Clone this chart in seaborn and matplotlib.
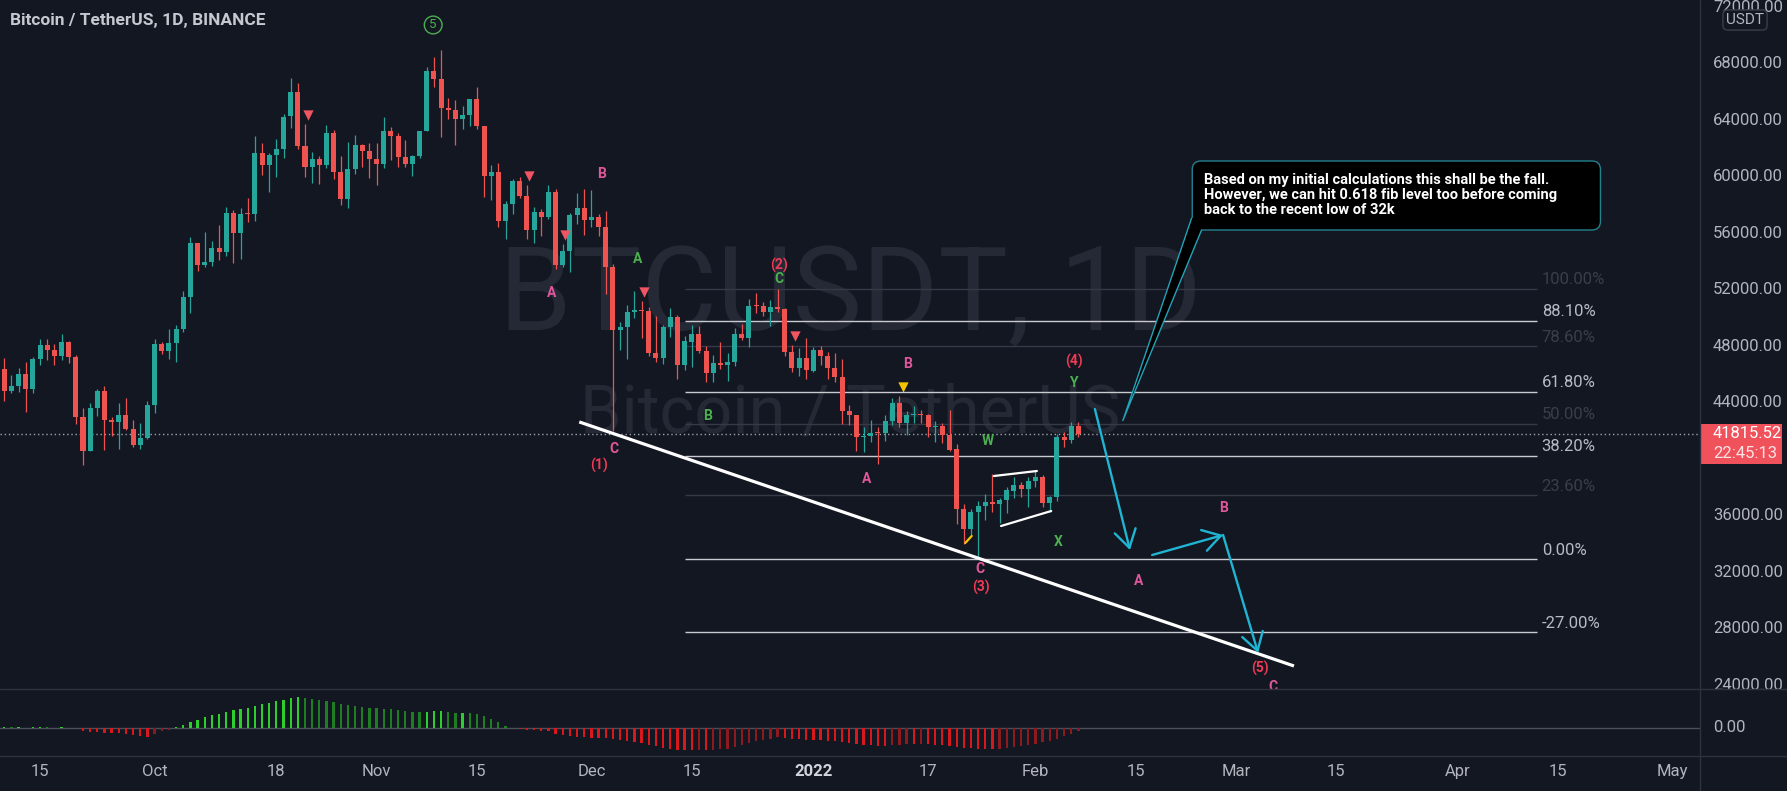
import numpy as np
import pandas as pd
import matplotlib
matplotlib.use('Agg')
import matplotlib.pyplot as plt
import seaborn as sns
from matplotlib.patches import FancyBboxPatch, Polygon, Rectangle
from matplotlib.lines import Line2D

# ---------------- data: BTCUSDT daily candles (Binance) ----------------
dates = pd.date_range('2021-09-10', '2022-02-07', freq='D')
opens = [
    # Sep 10-30
    46395, 44850, 45174, 46026, 44941, 47111, 48121, 47737, 47300, 48313, 47260, 42967, 40589, 43600, 44864,
    42810, 42670, 43160, 42147, 41026, 41524,
    # Oct
    43820, 48141, 47634, 48200, 49224, 51471, 55315, 53785, 53955, 54949, 54659, 57471, 55996, 57370, 57347,
    61672, 60875, 61528, 62005, 64281, 66001, 62193, 60689, 61286, 60852, 63078, 60328, 58413, 60575, 62253, 61859,
    # Nov
    61300, 60911, 63254, 62896, 61396, 60940, 61470, 63273, 67525, 66947, 64883, 64774, 64122, 64380, 65520,
    63606, 60059, 60344, 56891, 58057, 59707, 58617, 56247, 57541, 57138, 58960, 53724, 54721, 57274, 57777,
    # Dec
    56950, 57185, 56484, 53602, 49152, 49397, 50441, 50588, 50471, 47535, 47140, 49389, 50053, 46702, 48336,
    48864, 47632, 46133, 46835, 46681, 46914, 48887, 48588, 50838, 50820, 50428, 50809, 50640, 47588, 46444, 47178,
    # Jan
    46217, 47722, 47286, 46446, 45833, 43431, 43097, 41552, 41673, 41846, 41821, 42735, 43949, 42592, 43099,
    43172, 43118, 42250, 42374, 41744, 40699, 36471, 35031, 36276, 36655, 36950, 36841, 37128, 37780, 38151, 37920,
    # Feb
    38466, 38709, 36896, 37311, 41571, 41382, 42380,
]
highs = [
    47200, 45988, 46460, 46876, 47250, 48500, 48500, 48150, 48843, 48372, 47348, 43639, 44000, 44978, 45200,
    42966, 43950, 44350, 42787, 42590, 44141,
    48495, 48336, 49228, 49536, 51886, 55750, 55332, 56100, 55489, 56561, 57839, 57680, 57777, 58532, 62933,
    62378, 61718, 62695, 64486, 67000, 66639, 63732, 61747, 61500, 63710, 63293, 61496, 62499, 62980, 62359, 62405,
    62437, 64270, 63516, 63086, 62595, 61560, 63286, 67789, 68524, 69000, 65600, 65450, 64990, 65550, 66401,
    63617, 60840, 60976, 58320, 59845, 60029, 59444, 57875, 57735, 59398, 59150, 55280, 57445, 58865, 59176,
    59053, 57370, 57600, 53859, 49699, 50891, 51936, 51200, 50797, 50125, 49485, 50724, 50189, 48700, 49500,
    49436, 47995, 47392, 48300, 47537, 49328, 49576, 51375, 51810, 51156, 51280, 52088, 50704, 48119, 47900, 48577,
    47954, 47990, 47570, 47505, 47070, 43817, 43145, 42304, 42787, 42248, 43100, 44322, 44459, 43447, 43800,
    43476, 43179, 42690, 42574, 43505, 41100, 36835, 36499, 37050, 37545, 38919, 37234, 38000, 38720, 38359, 38744,
    39265, 38855, 37387, 41772, 41913, 42657, 42620,
]
lows = [
    44132, 44722, 44742, 43370, 44700, 46700, 47021, 46700, 47036, 46829, 42500, 39600, 40566, 43063, 40675,
    41646, 40750, 42098, 40888, 40753, 41410,
    43283, 47430, 47088, 46891, 49022, 50382, 53357, 53617, 53661, 54080, 54415, 53879, 54167, 56818, 56850,
    60150, 58963, 60000, 61322, 63481, 62000, 60000, 59562, 59510, 60650, 59817, 58000, 57820, 60174, 60673, 59945,
    59405, 60624, 61184, 60677, 60721, 60050, 61322, 63273, 66382, 62822, 64100, 62278, 63360, 63576, 63400,
    58574, 58373, 56474, 55600, 57353, 58486, 55610, 55317, 55837, 57000, 53500, 53610, 53256, 56666, 55875,
    56458, 55837, 51680, 42000, 47727, 47100, 50039, 48600, 47320, 46852, 46751, 48638, 45672, 46290, 46547,
    47511, 45456, 45500, 46406, 45558, 46630, 48421, 47920, 50384, 50142, 49412, 50449, 47313, 46201, 45900, 45678,
    46208, 46654, 45696, 45502, 42500, 42430, 40610, 40501, 41200, 39650, 41268, 42450, 42311, 41725, 42555,
    42577, 41540, 41250, 41138, 40553, 35440, 34008, 34601, 32917, 35702, 36234, 35507, 36155, 37268, 37351, 36633,
    38000, 36586, 36250, 37027, 40843, 41116, 41550,
]
closes = [
    44850, 45174, 46026, 44941, 47111, 48121, 47737, 47300, 48313, 47260, 42967, 40589, 43600, 44864, 42810,
    42670, 43160, 42147, 41026, 41524, 43824,
    48141, 47634, 48200, 49224, 51471, 55315, 53785, 53951, 54949, 54659, 57471, 55996, 57367, 57347, 61672,
    60875, 61528, 62009, 64280, 66001, 62193, 60689, 61286, 60852, 63078, 60328, 58413, 60575, 62253, 61859, 61300,
    60911, 63219, 62896, 61395, 60937, 61470, 63273, 67525, 66947, 64882, 64774, 64122, 64380, 65519, 63606,
    60058, 60344, 56891, 58052, 59707, 58622, 56247, 57541, 57138, 58960, 53726, 54721, 57274, 57776, 56950,
    57184, 56480, 53601, 49152, 49396, 50441, 50588, 50471, 47545, 47140, 49389, 50053, 46702, 48343, 48864,
    47632, 46131, 46834, 46681, 46914, 48889, 48588, 50838, 50821, 50429, 50809, 50640, 47588, 46444, 47178, 46306,
    47722, 47286, 46446, 45833, 43431, 43097, 41547, 41673, 41846, 41821, 42735, 43949, 42591, 43099, 43177,
    43113, 42250, 42375, 41744, 40680, 36445, 35071, 36276, 36654, 36954, 36852, 37138, 37784, 38138, 37917, 38466,
    38709, 36896, 37311, 41575, 41382, 42380, 41815.52,
]
# momentum histogram (lower pane), same dates
momentum = [
    0.8, 0.6, 0.8, 0.5, 0.6, 0.8, 0.6, 0.5, 0.6, 0.4, 0.2, -3, -4, -4, -4.5, -5, -5, -5.5, -6.5, -7.5, -9,
    -6, -3, -1.5, 1.5, 3.5, 6, 8.5, 11, 13, 14.5, 16.5, 18, 19, 20.5, 22.5, 24, 25.5, 27, 28.5, 30,
    31, 30, 29, 28, 27.5, 26, 24.5, 23, 22, 21, 20.5,
    20, 19.5, 19, 18, 17, 16.5, 16, 16.5, 17, 17, 16, 15.5, 15.5, 15, 14, 12, 9, 6, 2.5,
    -0.3, -1, -1.5, -2, -2.5, -3, -6, -7, -8, -8.5, -9,
    -9.5, -10, -10, -11, -12, -13, -14, -15, -16.5, -18, -19.5, -20.5, -21.5, -22, -22, -21.5, -22, -21.5, -21,
    -20.5, -19, -17, -15, -13, -12, -10.5, -9, -9.5, -10.5, -11, -11.5,
    -11.5, -12, -12.5, -13, -14, -15, -16, -16.5, -17, -17.5, -17.5, -17, -16.5, -16, -16, -15.5, -16, -16.5,
    -17, -17.5, -18.5, -19.5, -20, -20.5, -21, -21, -20.5, -20, -19, -18, -17,
    -15.5, -14, -12.5, -10.5, -8, -5.5, -3,
]

ref_day = pd.Timestamp('2021-09-15')
day = np.array((dates - ref_day).days, dtype=float)
o, h, l, c = map(np.array, (opens, highs, lows, closes))

tick_dates = ['2021-09-15', '2021-10-01', '2021-10-18', '2021-11-01', '2021-11-15', '2021-12-01', '2021-12-15',
              '2022-01-01', '2022-01-17', '2022-02-01', '2022-02-15', '2022-03-01', '2022-03-15', '2022-04-01',
              '2022-04-15', '2022-05-01']
tick_labels = ['15', 'Oct', '18', 'Nov', '15', 'Dec', '15', '2022', '17', 'Feb', '15', 'Mar', '15', 'Apr', '15', 'May']
price_ticks = [24000, 28000, 32000, 36000, 40000, 44000, 48000, 52000, 56000, 60000, 64000, 68000, 72000]

# fib retracement (Dec 27 high -> Jan 24 low)
fib_high, fib_low = 52088, 32917
fib_ratios = [1.0, 0.881, 0.786, 0.618, 0.5, 0.382, 0.236, 0.0, -0.27]
fib_labels = ['100.00%', '88.10%', '78.60%', '61.80%', '50.00%', '38.20%', '23.60%', '0.00%', '-27.00%']
fib_bright = [False, True, False, True, False, True, False, True, True]
fib_from, fib_to = '2021-12-14', '2022-04-12'

# drawings (x = days since 2021-09-15, y = price)
trend_x, trend_y = [75.3, 175.1], [42640, 25350]
arrows = [((147.3, 43556), (152.2, 33567)),
          ((155.3, 33213), (165.2, 34630)),
          ((165.2, 34630), (170.1, 26270))]
flag_upper = ([133.2, 139.2], [38810, 39164])
flag_lower = ([134.2, 141.2], [35267, 36330])
yellow_tick = ([129.2, 130.1], [34064, 34560])
red_tri_x, red_tri_y = [37.4, 68.3, 73.3, 84.4, 105.4], [64387, 60065, 55885, 51847, 48729]
yel_tri_x, yel_tri_y = [120.5], [45116]
wave_labels = [
    ('B', 78.4, 60207, 'pink'), ('A', 71.4, 51776, 'pink'), ('A', 83.4, 54185, 'green'),
    ('(2)', 103.2, 53760, 'red'), ('C', 103.2, 52767, 'green'), ('B', 93.2, 43061, 'green'),
    ('C', 80.2, 40723, 'pink'), ('(1)', 78.1, 39589, 'red'), ('B', 121.2, 46745, 'pink'),
    ('A', 115.4, 38597, 'pink'), ('W', 132.4, 41289, 'green'), ('(4)', 144.4, 46958, 'red'),
    ('Y', 144.4, 45399, 'green'), ('X', 142.2, 34134, 'green'), ('C', 131.3, 32221, 'pink'),
    ('(3)', 131.4, 30946, 'red'), ('B', 165.2, 36543, 'pink'), ('A', 153.4, 31371, 'pink'),
    ('(5)', 170.3, 25207, 'red'), ('C', 172.1, 23861, 'pink'),
]
circled_five = (54.9, 70763)
note_box = (160.9, 56240, 217.9, 61128)
note_tail = [(160.8, 57070), (151.2, 42730), (162.2, 56240)]
note_text = ("Based on my initial calculations this shall be the fall.\n"
             "However, we can hit 0.618 fib level too before coming\n"
             "back to the recent low of 32k")

# ---------------- style ----------------
BG = '#131722'
TXT = '#b2b5be'
SEP = '#2e323e'
UP, DOWN = '#26a69a', '#ef5350'
CYAN = '#1fb5d3'
wave_colors = {'pink': '#e0589b', 'red': '#ef3a55', 'green': '#4caf50'}

sns.set_theme(style='dark', rc={'figure.facecolor': BG, 'axes.facecolor': BG, 'savefig.facecolor': BG,
                                'axes.edgecolor': BG, 'text.color': TXT, 'xtick.color': TXT,
                                'ytick.color': TXT, 'axes.grid': False})
plt.rcParams['font.family'] = ['Liberation Sans Narrow', 'Roboto', 'DejaVu Sans']

W, H = 1787, 791
fig = plt.figure(figsize=(W / 100, H / 100), dpi=100)


def px_box(x0, y0, w, hh):
    return [x0 / W, 1 - (y0 + hh) / H, w / W, hh / H]


ax = fig.add_axes(px_box(0, 0, 1700, 689))
ax_ind = fig.add_axes(px_box(0, 689, 1700, 67))
ax_px = fig.add_axes(px_box(1700, 0, 87, 689))
ax_ipx = fig.add_axes(px_box(1700, 689, 87, 67))

XLIM = (-5.59, 231.8)
YLIM = (23719, 72534)
IYLIM = (-28, 39)

# watermark
ax.text(0.5, 0.521, 'BTCUSDT, 1D', transform=ax.transAxes, ha='center', va='baseline',
        fontsize=84, color='#252935', zorder=0)
ax.text(0.5, 0.372, 'Bitcoin / TetherUS', transform=ax.transAxes, ha='center', va='baseline',
        fontsize=48, color='#252935', zorder=0)

# fib levels
fx0 = (pd.Timestamp(fib_from) - ref_day).days
fx1 = (pd.Timestamp(fib_to) - ref_day).days
for r, lab, bright in zip(fib_ratios, fib_labels, fib_bright):
    p = fib_low + r * (fib_high - fib_low)
    ax.hlines(p, fx0, fx1, color='#c9cbd1' if bright else '#363a46', lw=1, zorder=1)
    ax.text(fx1 + 0.7, p + 640, lab, ha='left', va='center', fontsize=12,
            color='#b8bbc3' if bright else '#3a3e4a', zorder=1)

# candles
cols = np.where(c >= o, UP, DOWN)
ax.vlines(day, l, h, colors=cols, lw=0.9, zorder=3)
ax.bar(day, np.maximum(np.abs(c - o), 71), bottom=np.minimum(o, c), width=0.7, color=cols, lw=0, zorder=3)
ax.axhline(c[-1], color='#9ea2ab', lw=1, ls=(0, (1, 2)), zorder=2)

# drawings
ax.plot(trend_x, trend_y, color='white', lw=2.3, zorder=4, solid_capstyle='butt')
ax.plot(*flag_upper, color='white', lw=1.6, zorder=4)
ax.plot(*flag_lower, color='white', lw=1.6, zorder=4)
ax.plot(*yellow_tick, color='#f5c400', lw=1.6, zorder=4)
ax.scatter(red_tri_x, red_tri_y, marker='v', s=55, color='#f05563', lw=0, zorder=4)
ax.scatter(yel_tri_x, yel_tri_y, marker='v', s=55, color='#f5c400', lw=0, zorder=4)
for start, tip in arrows:
    ax.annotate('', xy=tip, xytext=start, zorder=5,
                arrowprops=dict(arrowstyle='->,head_length=0.9,head_width=0.55', color=CYAN, lw=1.7,
                                shrinkA=0, shrinkB=0, mutation_scale=14))

for txt, x, y, col in wave_labels:
    ax.text(x, y, txt, ha='center', va='center', fontsize=10, fontweight='bold',
            color=wave_colors[col], zorder=5)
ax.text(*circled_five, '5', ha='center', va='center', fontsize=9.5, color=wave_colors['green'], zorder=5,
        bbox=dict(boxstyle='circle,pad=0.18', fc='none', ec=wave_colors['green'], lw=1))

# callout note
bx0, by0, bx1, by1 = note_box
ax.add_patch(FancyBboxPatch((bx0, by0), bx1 - bx0, by1 - by0, boxstyle='round,pad=0,rounding_size=1.2',
                            mutation_aspect=507, fc='black', ec='#23808e', lw=1, zorder=6))
a_pt, tip_pt, b_pt = note_tail
ax.add_patch(Polygon([a_pt, tip_pt, b_pt, (163.5, 57500)], closed=True, fc='black', ec='none', zorder=7))
ax.plot([a_pt[0], tip_pt[0], b_pt[0]], [a_pt[1], tip_pt[1], b_pt[1]], color='#23a3b8', lw=1, zorder=8)
ax.text(162.6, 58718, note_text, ha='left', va='center', fontsize=10.5, fontweight='bold',
        color='white', linespacing=1.05, zorder=9)

ax.set_xlim(XLIM)
ax.set_ylim(YLIM)
ax.set_axis_off()

# momentum histogram with seaborn
mom = np.array(momentum)
prev = np.concatenate([[0.0], mom[:-1]])
shade = np.where(mom >= 0, np.where(mom >= prev, 'up_strong', 'up_weak'),
                 np.where(mom <= prev, 'dn_strong', 'dn_weak'))
mom_df = pd.DataFrame({'day': day, 'mom': mom, 'shade': shade})
shade_colors = {'up_strong': '#2ccf2c', 'up_weak': '#1f7d22', 'dn_strong': '#d9181e', 'dn_weak': '#8e1a20'}
sns.barplot(data=mom_df, x='day', y='mom', hue='shade', palette=shade_colors, native_scale=True,
            width=0.32, dodge=False, legend=False, errorbar=None, saturation=1, linewidth=0, ax=ax_ind)
ax_ind.axhline(0, color='#4b4f5a', lw=1, zorder=0)
ax_ind.set_xlim(XLIM)
ax_ind.set_ylim(IYLIM)
ax_ind.set_xlabel('')
ax_ind.set_ylabel('')
for s in ax_ind.spines.values():
    s.set_visible(False)
ax_ind.set_yticks([])
tick_pos = [(pd.Timestamp(d) - ref_day).days for d in tick_dates]
ax_ind.set_xticks(tick_pos)
ax_ind.set_xticklabels(tick_labels)
ax_ind.tick_params(axis='x', length=0, pad=6, labelsize=12, colors=TXT)
for t in ax_ind.get_xticklabels():
    if t.get_text() == '2022':
        t.set_fontweight('bold')
        t.set_color('#d1d4dc')

# price scale
ax_px.set_xlim(0, 87)
ax_px.set_ylim(YLIM)
ax_px.set_axis_off()
for p in price_ticks:
    ax_px.text(13, p, f'{p:.2f}', ha='left', va='center', fontsize=12, color=TXT, clip_on=True)
last = c[-1]
ax_px.add_patch(Rectangle((0, last - 2125), 82, 2833, fc='#f0525c', ec='none', zorder=5))
ax_px.text(13, last, f'{last:.2f}', ha='left', va='center', fontsize=12, color='white', zorder=6)
ax_px.text(13, last - 1417, '22:45:13', ha='left', va='center', fontsize=12, color='#fde3e3', zorder=6)
ax_px.text(45, 71117, 'USDT', ha='center', va='center', fontsize=11, color=TXT, zorder=6,
           bbox=dict(boxstyle='round,pad=0.2,rounding_size=0.3', fc=BG, ec='#3a3e4a', lw=1))

ax_ipx.set_xlim(0, 87)
ax_ipx.set_ylim(IYLIM)
ax_ipx.set_axis_off()
ax_ipx.text(13, 0, '0.00', ha='left', va='center', fontsize=12, color=TXT)

# pane separators
for yy in (102 / H, 35 / H):
    fig.add_artist(Line2D([0, 1], [yy, yy], transform=fig.transFigure, color=SEP, lw=1))
fig.add_artist(Line2D([1700 / W, 1700 / W], [0, 1], transform=fig.transFigure, color=SEP, lw=1))

fig.text(10 / W, 1 - 20 / H, 'Bitcoin / TetherUS, 1D, BINANCE', ha='left', va='center',
         fontsize=12.5, fontweight='bold', color='#c5c8cf')

fig.savefig('out.png', dpi=100, facecolor=BG)
